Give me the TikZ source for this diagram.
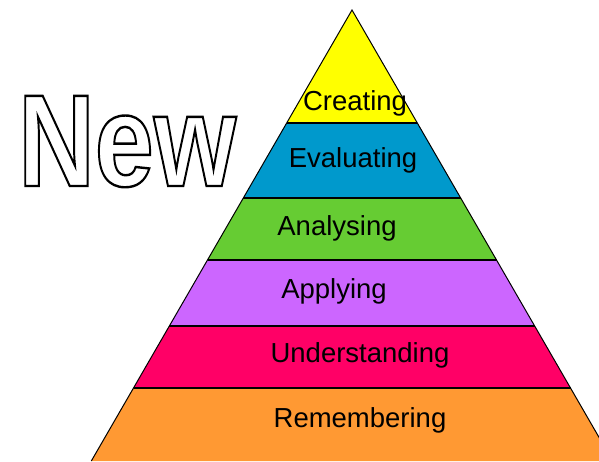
\documentclass[tikz,border=0pt]{standalone}
\usepackage{fontspec}
\setmainfont{Liberation Sans}

\definecolor{createyellow}{HTML}{FFFF00}
\definecolor{evalblue}{HTML}{0099CC}
\definecolor{analgreen}{HTML}{66CC33}
\definecolor{applypurple}{HTML}{CC66FF}
\definecolor{underpink}{HTML}{FF0066}
\definecolor{rememorange}{HTML}{FF9933}

% outlined letters (stroke only)
\newcommand{\outlineword}[1]{\special{pdf:literal direct 1 Tr 2.4 w 0 G}#1\special{pdf:literal direct 0 Tr}}

\begin{document}
\begin{tikzpicture}[
		x=1pt, y=-1pt,
		layer/.style={draw=black, line width=1.2pt},
		lbl/.style={anchor=base, inner sep=0pt, font=\fontsize{27.5}{30}\selectfont},
	]
	\useasboundingbox (0,0) rectangle (599,461);
	\clip (0,0) rectangle (599,461);

	% layers, bottom up
	\fill[rememorange] (133.5,388) -- (570.5,388) -- (612.7,461) -- (91.3,461) -- cycle;
	\fill[underpink] (169.4,326) -- (534.6,326) -- (570.5,388) -- (133.5,388) -- cycle;
	\fill[applypurple] (207.5,260) -- (496.5,260) -- (534.6,326) -- (169.4,326) -- cycle;
	\fill[analgreen] (243.3,198) -- (460.7,198) -- (496.5,260) -- (207.5,260) -- cycle;
	\fill[evalblue] (286.7,123) -- (417.3,123) -- (460.7,198) -- (243.3,198) -- cycle;
	\fill[createyellow] (352,10) -- (417.3,123) -- (286.7,123) -- cycle;

	\draw[layer] (286.7,123) -- (417.3,123);
	\draw[layer] (243.3,198) -- (460.7,198);
	\draw[layer] (207.5,260) -- (496.5,260);
	\draw[layer] (169.4,326) -- (534.6,326);
	\draw[layer] (133.5,388) -- (570.5,388);
	\draw[line width=1pt] (91.3,461) -- (352,10) -- (612.7,461);

	\node[lbl] (creating) at (355,110) {Creating};
	\node[lbl] (evaluating) at (353,167) {Evaluating};
	\node[lbl] (analysing) at (337,235) {Analysing};
	\node[lbl] (applying) at (334,298) {Applying};
	\node[lbl] (understanding) at (360,362) {Understanding};
	\node[lbl] (remembering) at (360,427) {Remembering};

	\node[anchor=base west, inner sep=0pt, xscale=0.81,
		font=\fontsize{131}{131}\selectfont\bfseries] (new) at (18,186) {\outlineword{New}};
\end{tikzpicture}
\end{document}
